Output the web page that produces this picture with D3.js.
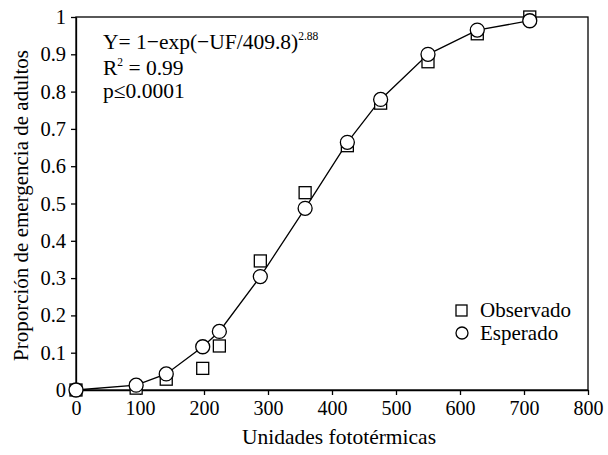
<!DOCTYPE html>
<html lang="es">
<head>
<meta charset="UTF-8">
<title>Emergencia de adultos</title>
<script src="https://d3js.org/d3.v7.min.js"></script>
<style>
    body { margin: 0; background: #fff; }
    svg { display: block; }
    .axis path, .axis line { stroke: #000; stroke-width: 1.3; }
</style>
</head>
<body>
<svg id="chart" width="608" height="455" font-family="Liberation Serif"></svg>
<script>
// unidades fototérmicas (UF) de cada muestreo
const uf = [0, 94, 141, 198, 224, 288, 358, 424, 476, 550, 627, 709];
// proporción observada
const observado = [0, 0.005, 0.029, 0.058, 0.118, 0.346, 0.529, 0.655, 0.769, 0.88, 0.955, 1.0];
// proporción esperada por el modelo
const esperado = [0, 0.013, 0.043, 0.116, 0.157, 0.304, 0.487, 0.664, 0.779, 0.9, 0.965, 0.99];

const xTicks = [0, 100, 200, 300, 400, 500, 600, 700, 800];
const yTicks = [0, 0.1, 0.2, 0.3, 0.4, 0.5, 0.6, 0.7, 0.8, 0.9, 1];

const FONT = "Liberation Serif";
const svg = d3.select("#chart");
const plotLeft = 76, plotRight = 588, plotTop = 17, plotBottom = 390;

const x = d3.scaleLinear().domain([0, 800]).range([plotLeft, plotRight]);
const y = d3.scaleLinear().domain([0, 1]).range([plotBottom, plotTop]);

// marco
svg.append("rect")
    .attr("x", plotLeft).attr("y", plotTop)
    .attr("width", plotRight - plotLeft).attr("height", plotBottom - plotTop)
    .attr("fill", "none").attr("stroke", "#000").attr("stroke-width", 1.3);

svg.append("g")
    .attr("class", "axis")
    .attr("transform", `translate(0,${plotBottom})`)
    .call(d3.axisBottom(x).tickValues(xTicks).tickSize(5).tickPadding(6).tickSizeOuter(0))
    .attr("font-family", FONT).attr("font-size", 20);

svg.append("g")
    .attr("class", "axis")
    .attr("transform", `translate(${plotLeft},0)`)
    .call(d3.axisLeft(y).tickValues(yTicks).tickSize(5).tickPadding(5).tickSizeOuter(0)
        .tickFormat(d => d === 0 || d === 1 ? d3.format("d")(d) : d3.format(".1f")(d)))
    .attr("font-family", FONT).attr("font-size", 20.5);

// línea del modelo
const line = d3.line()
    .x((d, i) => x(uf[i]))
    .y(d => y(d));

svg.append("path")
    .datum(esperado)
    .attr("d", line)
    .attr("fill", "none")
    .attr("stroke", "#000")
    .attr("stroke-width", 1.3);

// observados: cuadrados
svg.selectAll(".obs")
    .data(observado)
    .enter()
    .append("rect")
    .attr("class", "obs")
    .attr("x", (d, i) => x(uf[i]) - 6)
    .attr("y", d => y(d) - 6)
    .attr("width", 12).attr("height", 12)
    .attr("fill", "#fff").attr("stroke", "#000").attr("stroke-width", 1.3);

// esperados: círculos
svg.selectAll(".esp")
    .data(esperado)
    .enter()
    .append("circle")
    .attr("class", "esp")
    .attr("cx", (d, i) => x(uf[i]))
    .attr("cy", d => y(d))
    .attr("r", 7)
    .attr("fill", "#fff").attr("stroke", "#000").attr("stroke-width", 1.3);

// ecuación
const eq = svg.append("text").attr("x", 103).attr("y", 49).attr("font-size", 21.5).attr("font-family", FONT);
eq.append("tspan").text("Y= 1\u2212exp(\u2212UF/409.8)");
eq.append("tspan").attr("font-size", 11.5).attr("dy", -9).text("2.88");

const r2 = svg.append("text").attr("x", 103).attr("y", 75).attr("font-size", 21.5).attr("font-family", FONT);
r2.append("tspan").text("R");
r2.append("tspan").attr("font-size", 11.5).attr("dy", -9).text("2");
r2.append("tspan").attr("dy", 9).text(" = 0.99");

svg.append("text").attr("x", 103).attr("y", 98).attr("font-size", 21.5).attr("font-family", FONT)
    .text("p\u22640.0001");

// leyenda
svg.append("rect")
    .attr("x", 456).attr("y", 305).attr("width", 11).attr("height", 11)
    .attr("fill", "#fff").attr("stroke", "#000").attr("stroke-width", 1.3);
svg.append("text").attr("x", 480).attr("y", 317).attr("font-size", 21).attr("font-family", FONT)
    .text("Observado");

svg.append("circle")
    .attr("cx", 462).attr("cy", 333).attr("r", 6)
    .attr("fill", "#fff").attr("stroke", "#000").attr("stroke-width", 1.3);
svg.append("text").attr("x", 480).attr("y", 340).attr("font-size", 21).attr("font-family", FONT)
    .text("Esperado");

// títulos de ejes
svg.append("text")
    .attr("x", 339).attr("y", 444)
    .attr("text-anchor", "middle").attr("font-size", 21.5).attr("font-family", FONT)
    .text("Unidades fototérmicas");

svg.append("text")
    .attr("transform", `translate(28,${(plotTop + plotBottom) / 2 + 2}) rotate(-90)`)
    .attr("text-anchor", "middle").attr("font-size", 21).attr("font-family", FONT)
    .text("Proporción de emergencia de adultos");
</script>
</body>
</html>
